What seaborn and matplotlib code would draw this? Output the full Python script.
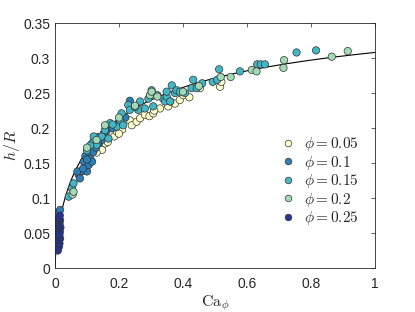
import numpy as np
import pandas as pd
import matplotlib
matplotlib.use('Agg')
import matplotlib.pyplot as plt
import seaborn as sns
from matplotlib.ticker import FuncFormatter

# data
ca_005 = [0.12, 0.14, 0.142, 0.147, 0.157, 0.165, 0.177, 0.185, 0.193, 0.21, 0.234, 0.24, 0.255, 0.266, 0.281,
          0.295, 0.307, 0.328, 0.354, 0.375, 0.39, 0.401, 0.42, 0.453, 0.516, 0.52, 0.13, 0.2, 0.36, 0.31]
h_005 = [0.169, 0.171, 0.173, 0.169, 0.178, 0.18, 0.19, 0.188, 0.195, 0.198, 0.211, 0.204, 0.209, 0.214, 0.219,
         0.217, 0.221, 0.228, 0.231, 0.235, 0.24, 0.247, 0.244, 0.257, 0.259, 0.266, 0.165, 0.192, 0.238, 0.225]

ca_01 = [0.012, 0.016, 0.074, 0.084, 0.095, 0.09, 0.1, 0.105, 0.11, 0.116, 0.095, 0.105, 0.121, 0.116, 0.137,
         0.146, 0.152, 0.135, 0.12, 0.135, 0.16, 0.18, 0.234, 0.07, 0.078, 0.088, 0.1, 0.128, 0.2, 0.22]
h_01 = [0.08, 0.083, 0.133, 0.138, 0.145, 0.152, 0.138, 0.147, 0.157, 0.152, 0.16, 0.166, 0.169, 0.178, 0.178,
        0.183, 0.192, 0.187, 0.166, 0.18, 0.195, 0.2, 0.239, 0.138, 0.128, 0.142, 0.155, 0.172, 0.208, 0.215]

ca_015 = [0.043, 0.053, 0.058, 0.12, 0.121, 0.13, 0.146, 0.156, 0.167, 0.172, 0.193, 0.203, 0.208, 0.213,
          0.229, 0.234, 0.26, 0.266, 0.281, 0.292, 0.302, 0.307, 0.338, 0.344, 0.349, 0.349, 0.36, 0.365,
          0.375, 0.38, 0.39, 0.406, 0.427, 0.432, 0.443, 0.46, 0.493, 0.507, 0.513, 0.578, 0.632, 0.643,
          0.656, 0.755, 0.816, 0.1, 0.11, 0.18, 0.25, 0.32]
h_015 = [0.102, 0.114, 0.121, 0.18, 0.188, 0.176, 0.188, 0.197, 0.185, 0.207, 0.202, 0.211, 0.221, 0.204,
         0.233, 0.226, 0.226, 0.238, 0.228, 0.242, 0.254, 0.231, 0.242, 0.238, 0.245, 0.252, 0.238, 0.261,
         0.25, 0.254, 0.252, 0.25, 0.257, 0.269, 0.257, 0.264, 0.266, 0.269, 0.284, 0.281, 0.291, 0.291,
         0.291, 0.308, 0.311, 0.168, 0.175, 0.205, 0.23, 0.247]

ca_02 = [0.055, 0.058, 0.1, 0.156, 0.13, 0.2, 0.25, 0.297, 0.302, 0.32, 0.4, 0.45, 0.518, 0.549, 0.615,
         0.63, 0.714, 0.716, 0.865, 0.915]
h_02 = [0.105, 0.109, 0.172, 0.204, 0.183, 0.215, 0.232, 0.247, 0.252, 0.245, 0.252, 0.26, 0.273, 0.273,
        0.283, 0.281, 0.286, 0.297, 0.302, 0.31]

ca_025 = [0.009, 0.012, 0.014, 0.010, 0.016, 0.013, 0.011, 0.015, 0.009, 0.017, 0.012, 0.014, 0.010, 0.016,
          0.013, 0.011, 0.015, 0.014]
h_025 = [0.025, 0.03, 0.035, 0.04, 0.042, 0.045, 0.05, 0.052, 0.055, 0.058, 0.06, 0.063, 0.065, 0.068,
         0.07, 0.072, 0.075, 0.048]

phi_labels = [r'$\phi = 0.05$', r'$\phi = 0.1$', r'$\phi = 0.15$', r'$\phi = 0.2$', r'$\phi = 0.25$']
colors = ['#ffffcc', '#2c7fb8', '#41b6c4', '#a1dab4', '#253494']

# Aussillous-Quere law
A_COEF = 1.34
B_COEF = 3.35

frames = []
for lab, ca, h in zip(phi_labels, [ca_005, ca_01, ca_015, ca_02, ca_025],
                      [h_005, h_01, h_015, h_02, h_025]):
    frames.append(pd.DataFrame({'Ca': ca, 'h': h, 'phi': lab}))
df = pd.concat(frames, ignore_index=True)

ca_fit = np.linspace(0, 1, 400)
c23 = ca_fit ** (2 / 3)
h_fit = A_COEF * c23 / (1 + B_COEF * c23)

sns.set_style('white')
plt.rcParams['font.family'] = ['Liberation Sans', 'DejaVu Sans']
plt.rcParams['mathtext.fontset'] = 'cm'

fig = plt.figure(figsize=(4.15, 3.12), dpi=100)
ax = fig.add_axes([0.1325, 0.141, 0.771, 0.785])

sns.lineplot(x=ca_fit, y=h_fit, color='black', linewidth=0.8, ax=ax, zorder=1)
sns.scatterplot(data=df, x='Ca', y='h', hue='phi', palette=colors, hue_order=phi_labels,
                s=28, edgecolor='#333333', linewidth=0.5, ax=ax, zorder=2)

ax.set_xlim(0, 1)
ax.set_ylim(0, 0.35)
ax.set_xticks(np.arange(0, 1.01, 0.2))
ax.set_yticks(np.arange(0, 0.351, 0.05))
fmt = FuncFormatter(lambda v, p: '%g' % round(v, 3))
ax.xaxis.set_major_formatter(fmt)
ax.yaxis.set_major_formatter(fmt)
ax.tick_params(direction='in', length=3, width=0.5, top=True, right=True,
               labelsize=10, colors='#262626')
ax.tick_params(axis='x', pad=6.5)
ax.tick_params(axis='y', pad=3.5)
for sp in ax.spines.values():
    sp.set_color('#262626')
    sp.set_linewidth(0.6)

ax.set_xlabel(r'$\mathrm{Ca}_\phi$', fontsize=11.5, labelpad=2)
ax.set_ylabel(r'$h/R$', fontsize=11.5, labelpad=1)

ax.legend(loc='center left', bbox_to_anchor=(0.66, 0.355), frameon=False, fontsize=11,
          handletextpad=0.1, labelspacing=0.03, borderaxespad=0, markerscale=0.9)

fig.savefig('out.png', dpi=100)
